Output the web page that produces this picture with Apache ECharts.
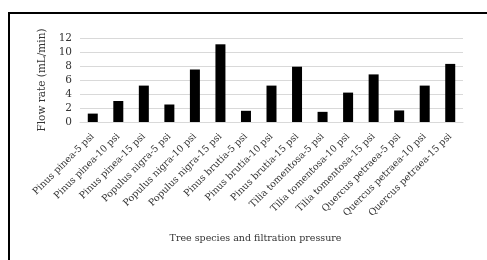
<!DOCTYPE html>
<html>
<head>
<meta charset="utf-8">
<script src="https://cdn.jsdelivr.net/npm/echarts@6/dist/echarts.min.js"></script>
<style>
  html, body { margin: 0; padding: 0; background: #fff; }
  #chart { width: 487px; height: 260px; }
</style>
</head>
<body>
<div id="chart"></div>
<script>
// categories along x
var categories = [
  'Pinus pinea-5 psi', 'Pinus pinea-10 psi', 'Pinus pinea-15 psi',
  'Populus nigra-5 psi', 'Populus nigra-10 psi', 'Populus nigra-15 psi',
  'Pinus brutia-5 psi', 'Pinus brutia-10 psi', 'Pinus brutia-15 psi',
  'Tilia tomentosa-5 psi', 'Tilia tomentosa-10 psi', 'Tilia tomentosa-15 psi',
  'Quercus petraea-5 psi', 'Quercus petraea-10 psi', 'Quercus petraea-15 psi'
]
// flow rate (mL/min)
var flowRate = [1.2, 3.0, 5.2, 2.5, 7.5, 11.1, 1.6, 5.2, 7.9, 1.45, 4.2, 6.8, 1.65, 5.2, 8.3]

var font = 'DejaVu Serif'

var myChart = echarts.init(document.getElementById('chart'))
var option = {
  animation: false,
  graphic: [{
    type: 'rect',
    shape: { x: 9, y: 13, width: 490, height: 260 },
    style: { fill: 'none', stroke: '#000', lineWidth: 2 }
  }],
  grid: { left: 80, right: 24, top: 38, bottom: 138 },
  xAxis: {
    type: 'category',
    data: categories,
    name: 'Tree species and filtration pressure',
    nameLocation: 'middle',
    nameGap: 112,
    nameTextStyle: { fontFamily: font, fontSize: 9.5, color: '#333', padding: [0, 32, 0, 0] },
    axisLine: { lineStyle: { color: '#d9d9d9' } },
    axisTick: { show: false },
    axisLabel: {
      rotate: 45, interval: 0, margin: 13,
      fontFamily: font, fontSize: 9.5, color: '#333'
    }
  },
  yAxis: {
    type: 'value',
    min: 0, max: 12, interval: 2,
    name: 'Flow rate (mL/min)',
    nameLocation: 'middle',
    nameGap: 30,
    nameTextStyle: { fontFamily: font, fontSize: 10.5, color: '#333' },
    axisLine: { show: false },
    axisTick: { show: false },
    axisLabel: { margin: 8, fontFamily: font, fontSize: 10.5, color: '#333' },
    splitLine: { lineStyle: { color: '#d9d9d9' } }
  },
  series: [{
    type: 'bar',
    data: flowRate,
    barWidth: 10,
    itemStyle: { color: '#000' }
  }]
}
myChart.setOption(option)
</script>
</body>
</html>
